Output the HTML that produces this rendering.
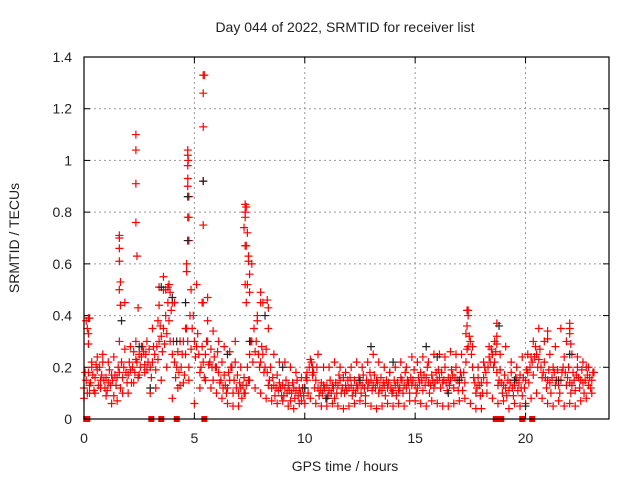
<!DOCTYPE html>
<html><head><meta charset="utf-8"><style>
body{margin:0;background:#fff;}
svg{display:block;font-family:"Liberation Sans",sans-serif;}
</style></head><body>
<svg id="chart" width="640" height="480">
<text x="345" y="32" font-size="14" text-anchor="middle" fill="#222">Day 044 of 2022, SRMTID for receiver list</text>
<text x="19" y="238" font-size="14" text-anchor="middle" fill="#222" transform="rotate(-90 19 238)">SRMTID / TECUs</text>
<text x="345" y="471" font-size="14" text-anchor="middle" fill="#222">GPS time / hours</text>
<g id="grid"></g><g id="axes"></g><g id="red"></g><g id="black"></g>
<rect x="84" y="57" width="525" height="362" fill="none" stroke="#000" stroke-width="1.2"/>
</svg>
<script>
const xTicks=[0,5,10,15,20];
const yTicks=[0,0.2,0.4,0.6,0.8,1,1.2,1.4];
const yTickLabels=["0","0.2","0.4","0.6","0.8","1","1.2","1.4"];
const midVals=[0.12,0.15,0.18,0.14,0.17,0.16,0.19,0.2,0.17,0.15,
0.16,0.14,0.13,0.15,0.17,0.16,0.18,0.22,0.2,0.18,
0.17,0.19,0.2,0.18,0.22,0.25,0.24,0.26,0.25,0.22,
0.2,0.22,0.25,0.28,0.3,0.32,0.35,0.4,0.45,0.3,
0.25,0.22,0.2,0.18,0.2,0.3,0.25,0.3,0.4,0.35,
0.3,0.28,0.25,0.2,0.22,0.25,0.3,0.22,0.2,0.24,
0.2,0.18,0.15,0.12,0.13,0.12,0.15,0.2,0.15,0.12,
0.1,0.12,0.13,0.1,0.2,0.25,0.3,0.35,0.3,0.25,
0.22,0.25,0.2,0.18,0.15,0.12,0.13,0.12,0.11,0.12,
0.13,0.12,0.1,0.11,0.1,0.12,0.11,0.09,0.1,0.12,
0.12,0.15,0.2,0.22,0.18,0.15,0.12,0.11,0.1,0.12,
0.13,0.11,0.1,0.12,0.14,0.13,0.15,0.12,0.1,0.11,
0.12,0.13,0.11,0.1,0.12,0.14,0.13,0.12,0.15,0.14,
0.15,0.13,0.12,0.14,0.12,0.11,0.13,0.15,0.14,0.12,
0.11,0.13,0.14,0.12,0.15,0.13,0.12,0.14,0.16,0.15,
0.13,0.12,0.14,0.15,0.17,0.16,0.14,0.13,0.15,0.14,
0.15,0.16,0.18,0.15,0.14,0.16,0.15,0.17,0.16,0.15,
0.14,0.16,0.18,0.22,0.28,0.3,0.2,0.14,0.12,0.13,
0.14,0.16,0.18,0.2,0.22,0.25,0.22,0.18,0.15,0.14,
0.13,0.12,0.15,0.14,0.12,0.13,0.15,0.14,0.12,0.16,
0.15,0.18,0.2,0.22,0.24,0.25,0.23,0.2,0.18,0.16,
0.15,0.14,0.16,0.18,0.15,0.13,0.15,0.2,0.18,0.16,
0.14,0.13,0.15,0.17,0.16,0.15,0.14,0.15,0.17,0.16,0.15];
const mid2Vals=[0.18,0.1,0.13,0.2,0.11,0.21,0.13,0.15,0.22,0.12,
0.11,0.19,0.17,0.09,0.13,0.2,0.12,0.16,0.27,0.14,
0.22,0.14,0.26,0.23,0.16,0.2,0.28,0.21,0.19,0.27,
0.16,0.28,0.19,0.23,0.36,0.26,0.29,0.33,0.38,0.42,
0.3,0.16,0.26,0.13,0.25,0.17,0.35,0.2,0.27,0.4,
0.24,0.33,0.18,0.28,0.16,0.3,0.21,0.27,0.15,0.2,
0.26,0.14,0.22,0.17,0.1,0.18,0.2,0.1,0.22,0.17,
0.14,0.08,0.16,0.13,0.15,0.3,0.22,0.26,0.38,0.2,
0.28,0.18,0.27,0.13,0.2,0.16,0.09,0.17,0.14,0.09,
0.09,0.15,0.13,0.07,0.14,0.08,0.15,0.12,0.07,0.09,
0.16,0.1,0.23,0.17,0.12,0.2,0.09,0.14,0.13,0.08,
0.09,0.15,0.13,0.08,0.1,0.17,0.1,0.16,0.13,0.15,
0.16,0.09,0.15,0.13,0.16,0.1,0.17,0.09,0.12,0.18,
0.11,0.17,0.15,0.1,0.16,0.14,0.09,0.12,0.18,0.1,
0.15,0.09,0.11,0.16,0.1,0.18,0.15,0.1,0.13,0.19,
0.1,0.16,0.18,0.11,0.13,0.2,0.1,0.17,0.12,0.18,
0.19,0.12,0.14,0.2,0.11,0.13,0.19,0.12,0.2,0.11,
0.18,0.11,0.14,0.27,0.32,0.25,0.16,0.1,0.16,0.09,
0.1,0.2,0.14,0.24,0.27,0.2,0.26,0.13,0.19,0.1,
0.17,0.09,0.11,0.18,0.09,0.16,0.11,0.17,0.09,0.12,
0.19,0.14,0.24,0.17,0.28,0.2,0.27,0.16,0.22,0.12,
0.19,0.1,0.2,0.13,0.19,0.1,0.18,0.24,0.13,0.2,
0.1,0.18,0.11,0.2,0.12,0.19,0.1,0.2,0.13,0.12,0.18];
const lowVals=[0.08,0.1,0.1,0.12,0.09,0.06,0.07,0.1,0.1,0.14,0.17,0.18,0.1,0.12,0.15,0.2,
0.08,0.12,0.14,0.15,0.06,0.12,0.15,0.12,0.1,0.08,0.06,0.05,0.05,0.1,0.15,0.12,
0.1,0.08,0.07,0.06,0.07,0.05,0.04,0.06,0.06,0.08,0.06,0.05,0.05,0.06,0.05,0.04,
0.05,0.06,0.07,0.06,0.05,0.04,0.05,0.06,0.05,0.06,0.05,0.07,0.07,0.06,0.05,0.07,
0.06,0.05,0.05,0.06,0.07,0.08,0.06,0.04,0.04,0.1,0.08,0.06,0.07,0.04,0.06,0.05,
0.06,0.08,0.1,0.08,0.06,0.05,0.07,0.05,0.06,0.05,0.07,0.08,0.1];
const highVals=[0.38,0.22,0.24,0.25,0.22,0.24,0.3,0.45,0.28,0.3,0.28,0.3,0.35,0.38,0.5,0.52,
0.45,0.3,0.35,0.5,0.52,0.45,0.38,0.34,0.3,0.28,0.26,0.3,0.2,0.45,0.6,0.4,
0.45,0.35,0.25,0.22,0.22,0.2,0.18,0.16,0.18,0.2,0.25,0.2,0.2,0.22,0.2,0.18,
0.2,0.22,0.2,0.22,0.25,0.22,0.2,0.18,0.2,0.22,0.2,0.24,0.22,0.24,0.22,0.25,
0.25,0.24,0.26,0.25,0.25,0.42,0.28,0.2,0.22,0.28,0.3,0.25,0.28,0.22,0.2,0.24,
0.25,0.3,0.35,0.3,0.25,0.28,0.35,0.3,0.25,0.24,0.22,0.2,0.18];
const spikeT=[1.6,1.6,1.6,1.6,1.65,1.6,1.65,2.35,2.35,2.35,2.35,2.4,2.45,4.7,4.7,4.72,4.7,4.7,4.7,4.75,4.7,4.75,4.75,4.65,4.65,5.4,5.45,5.4,5.4,5.4,5.4,5.4,5.6,7.3,7.35,7.3,7.3,7.25,7.4,7.3,7.35,7.45,7.45,7.5,7.3,7.4,7.5,8.0,8.0,8.3,8.35,3.6,3.7,3.8,3.9,4.0,3.4,3.4,17.4,17.4,17.35,17.3,18.7,18.7,18.7,21.0,21.0,22.0,22.0,22.0,22.05,0.2,0.25,0.15,0.2,0.2];
const spikeV=[0.71,0.7,0.66,0.61,0.53,0.5,0.44,1.1,1.04,0.91,0.76,0.63,0.43,1.04,1.02,1.0,0.98,0.93,0.9,0.86,0.78,0.78,0.69,0.6,0.57,1.33,1.33,1.26,1.13,0.92,0.75,0.45,0.47,0.83,0.82,0.8,0.78,0.74,0.72,0.67,0.67,0.63,0.61,0.56,0.52,0.52,0.49,0.49,0.45,0.46,0.43,0.55,0.5,0.51,0.49,0.45,0.51,0.44,0.42,0.4,0.36,0.33,0.37,0.32,0.29,0.34,0.31,0.37,0.35,0.33,0.29,0.39,0.39,0.35,0.33,0.29];
const blackT=[5.4,4.7,4.7,4.6,3.5,4.0,18.8,13,16,12.5,7.5,9,6.5,4.2,20,14,11,16.5,21.5,22,2.5,1.7,19.5,15.5,8.2,3,10,17];
const blackV=[0.92,0.86,0.69,0.45,0.51,0.47,0.36,0.28,0.24,0.15,0.3,0.2,0.25,0.3,0.05,0.22,0.08,0.1,0.15,0.25,0.28,0.38,0.15,0.28,0.4,0.12,0.12,0.15];
const zeroT=[0.1,0.15,3.05,3.5,4.2,5.45,18.65,18.9,19.85,20.3];

const X0=84,X1=609,Y0=419,Y1=57,XMAX=23.78,YMAX=1.4;
const sx=t=>X0+t/XMAX*(X1-X0);
const sy=v=>Y0-v/YMAX*(Y0-Y1);
const NS="http://www.w3.org/2000/svg";
function mk(tag,attrs,parent){const e=document.createElementNS(NS,tag);for(const k in attrs)e.setAttribute(k,attrs[k]);parent.appendChild(e);return e;}
const grid=document.getElementById('grid'),axes=document.getElementById('axes');
xTicks.forEach(t=>{
  const x=sx(t);
  if(t>0){const g=mk('line',{x1:x,x2:x,y1:Y1,y2:Y0,stroke:'#999','stroke-dasharray':'2,3'},grid);
  
  }
  mk('line',{x1:x,x2:x,y1:Y0,y2:Y0-6,stroke:'#000'},axes);
  mk('line',{x1:x,x2:x,y1:Y1,y2:Y1+6,stroke:'#000'},axes);
  const l=mk('text',{x:x,y:443,'font-size':14,'text-anchor':'middle',fill:'#222'},axes);
  l.textContent=t;
  
  
});
yTicks.forEach((v,i)=>{
  const y=sy(v);
  if(v>0&&v<YMAX){const g=mk('line',{x1:X0,x2:X1,y1:y,y2:y,stroke:'#999','stroke-dasharray':'2,3'},grid);
  
  }
  mk('line',{x1:X0,x2:X0+6,y1:y,y2:y,stroke:'#000'},axes);
  mk('line',{x1:X1,x2:X1-6,y1:y,y2:y,stroke:'#000'},axes);
  const l=mk('text',{x:72,y:y+5,'font-size':14,'text-anchor':'end',fill:'#222'},axes);
  l.textContent=yTickLabels[i];
  
  
});
function cross(t,v,col,parent,name){
  const x=sx(t),y=sy(v);
  const p=mk('path',{d:`M${x-4} ${y}H${x+4}M${x} ${y-4}V${y+4}`,stroke:col,'stroke-width':1.2,fill:'none'},parent);
  
  
}
const red=document.getElementById('red'),black=document.getElementById('black');
blackT.forEach((t,i)=>cross(t,blackV[i],'#222',black,'black-point'));
midVals.forEach((v,i)=>cross(i*0.1,v,'#f00',red,'red-point'));
mid2Vals.forEach((v,i)=>cross(i*0.1+0.05,v,'#f00',red,'red-point'));
lowVals.forEach((v,i)=>cross(i*0.25,v,'#f00',red,'red-point'));
highVals.forEach((v,i)=>cross(i*0.25+0.1,v,'#f00',red,'red-point'));
spikeT.forEach((t,i)=>cross(t,spikeV[i],'#f00',red,'red-point'));
zeroT.forEach(t=>{
  const r=mk('rect',{x:sx(t)-3,y:Y0-3,width:6,height:6,fill:'#f00'},red);
  
  
});
</script>
</body></html>
